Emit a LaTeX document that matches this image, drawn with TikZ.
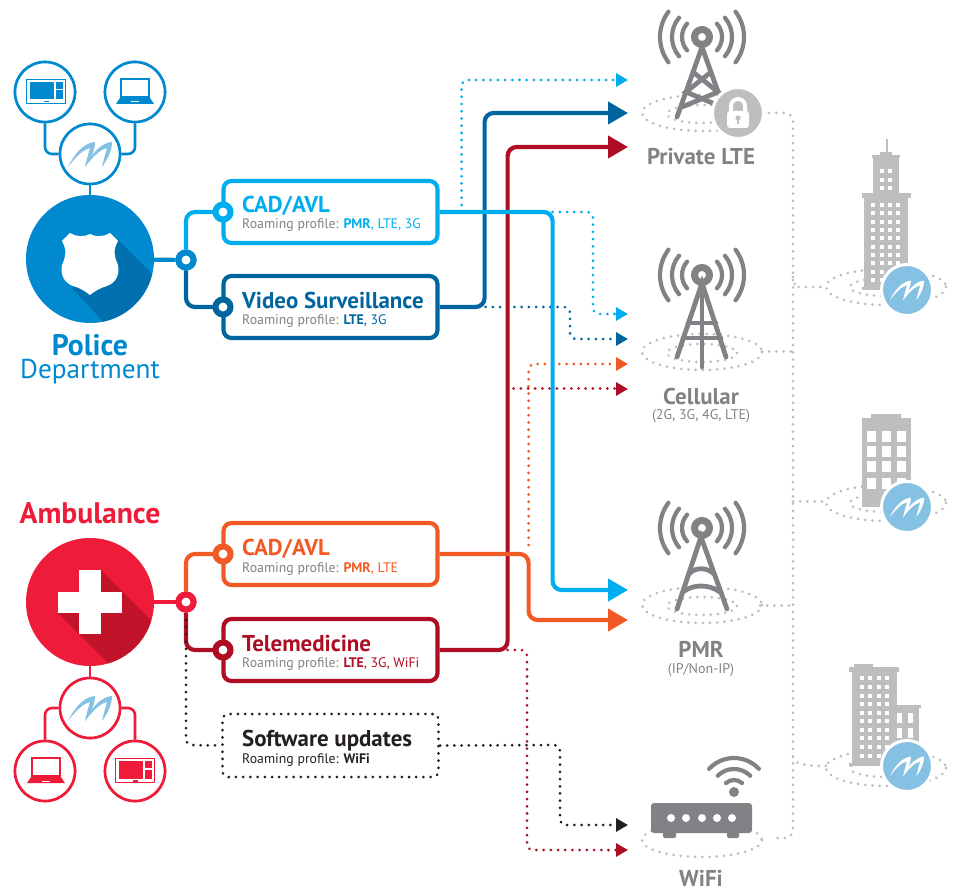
\documentclass[tikz,border=0pt]{standalone}
\usepackage{fontspec}
\setmainfont{PT Sans}
\usetikzlibrary{arrows.meta}
\definecolor{polblue}{HTML}{0089CF}
\definecolor{polshade}{HTML}{0071AE}
\definecolor{cadblue}{HTML}{00AEEF}
\definecolor{vidblue}{HTML}{00659F}
\definecolor{ambred}{HTML}{EE1C39}
\definecolor{ambshade}{HTML}{C1132A}
\definecolor{cadorange}{HTML}{F15A24}
\definecolor{teldark}{HTML}{AE0D24}
\definecolor{softblack}{HTML}{231F20}
\definecolor{towergray}{HTML}{808285}
\definecolor{lightgray}{HTML}{BCBEC0}
\definecolor{logoblue}{HTML}{85C1E3}
\tikzset{
  solidline/.style={line width=4.2pt,rounded corners=9pt,-{Triangle[length=20pt,width=22pt]}},
  dotline/.style={line width=3pt,line cap=round,dash pattern=on 0.01pt off 7.2pt,rounded corners=6pt,-{Triangle[length=12pt,width=13pt]}},
  plainline/.style={line width=4.2pt,rounded corners=9pt},
  thinline/.style={line width=2.6pt,rounded corners=7pt},
  grayline/.style={line width=3pt,line cap=round,dash pattern=on 0.01pt off 7.2pt,lightgray,rounded corners=8pt},
  towerline/.style={line width=4.8pt,towergray,line cap=round},
  waveline/.style={line width=4.2pt,towergray,line cap=round},
  routebox/.style={draw,line width=4.2pt,rounded corners=8pt,minimum width=214pt,minimum height=62pt,inner sep=0pt,fill=white},
  softbox/.style={draw=softblack,line width=3pt,line cap=round,dash pattern=on 0.01pt off 7.2pt,rounded corners=6pt,minimum width=216pt,minimum height=63pt,inner sep=0pt},
  ring/.style={circle,draw,fill=white,line width=6pt,minimum size=15pt,inner sep=0pt},
  iconcircle/.style={circle,draw,fill=white,line width=2.6pt,minimum size=60pt,inner sep=0pt},
  badge/.style={circle,draw=white,line width=3pt,minimum size=51pt,inner sep=0pt},
  bigcircle/.style={circle,minimum size=128pt,inner sep=0pt},
  boxtitle/.style={anchor=base west,inner sep=0pt,font=\fontsize{22.9}{22.9}\selectfont\bfseries},
  boxsub/.style={anchor=base west,inner sep=0pt,towergray,font=\fontsize{13.8}{13.8}\selectfont},
  sitetitle/.style={anchor=base,inner sep=0pt,towergray,font=\fontsize{22.9}{22.9}\selectfont\bfseries},
  sitesub/.style={anchor=base,inner sep=0pt,towergray,font=\fontsize{14}{14}\selectfont},
  depttitle/.style={anchor=base,inner sep=0pt,font=\fontsize{29.7}{29.7}\selectfont\bfseries},
}
% swoosh mark: x, y, scale, colour
\newcommand{\logomark}[4]{
\foreach \dx in {0,17}{
\fill[#4,shift={(#1,#2)},scale=#3] (-22+\dx,13) .. controls (-14+\dx,-3) and (-5+\dx,-11) .. (5+\dx,-12)
  .. controls (5+\dx,-4) and (1+\dx,5) .. (-5+\dx,13) .. controls (-3+\dx,4) and (-1+\dx,-2) .. (0+\dx,-6)
  .. controls (-8+\dx,-4) and (-15+\dx,4) .. (-22+\dx,13) -- cycle;
}}
\newcommand{\desktopicon}[3]{
\begin{scope}[shift={(#1,#2)}]
\draw[#3,line width=1.6pt] (-19.5,-12.5) rectangle (19.5,11.5);
\fill[#3] (-16,-10) rectangle (8,7.5);
\fill[#3] (9.5,-10) rectangle (17,-3);
\fill[#3] (9.5,-1.5) rectangle (17,7.5);
\fill[#3] (-2,9) rectangle (2.5,10.5);
\end{scope}}
\newcommand{\laptopicon}[3]{
\begin{scope}[shift={(#1,#2)}]
\draw[#3,line width=1.6pt] (-14,-13) rectangle (14,5);
\fill[#3] (-15,6) -- (15,6) -- (19,12) -- (-19,12) -- cycle;
\fill[white] (-4,9.5) rectangle (4,10.5);
\end{scope}}
\begin{document}
\begin{tikzpicture}[x=1pt,y=-1pt]
\useasboundingbox (0,0) rectangle (953,890);

% gray network on the right
\coordinate (privend) at (762,113);
\coordinate (wifiend) at (773,838);
\draw[grayline] (privend) -- (793,113) -- (793,838) -- (wifiend);
\draw[grayline] (762,352) -- (793,352);
\draw[grayline] (760,605) -- (793,605);
\draw[grayline] (793,277) .. controls (794,285) and (797,287) .. (803,287) -- (826,287);
\draw[grayline] (793,501) -- (826,501);
\draw[grayline] (793,757) .. controls (795,763) and (800,766) .. (826,766);

% dotted footprints
\foreach \cy in {113,352,605}{
\draw[grayline] (702,\cy) ellipse [x radius=60,y radius=18];
\draw[grayline] (702,\cy+1) ellipse [x radius=35,y radius=9];
}
\draw[grayline] (702,840) ellipse [x radius=60,y radius=17];
\foreach \cy in {287,503,768}{
\draw[grayline] (886,\cy) ellipse [x radius=60,y radius=18];
\draw[grayline] (886,\cy) ellipse [x radius=36,y radius=9];
}

% towers
\foreach \ty in {37,275,528}{
\foreach \r/\a in {20/42,30/40,42/37}{
\draw[waveline] (702,\ty) ++(-\a:\r) arc[start angle=-\a,end angle=\a,radius=\r];
\draw[waveline] (702,\ty) ++(180-\a:\r) arc[start angle=180-\a,end angle=180+\a,radius=\r];
}
\draw[towergray,line width=7pt] (702,\ty) circle (7.5);
}
% private
\draw[towerline] (677,117) -- (702,47) -- (727,117);
\draw[towerline] (693,72) -- (718,92) -- (682,107);
\draw[towerline] (711,72) -- (686,92) -- (722,107);
% cellular
\draw[towerline] (677,357) -- (702,283) -- (726,357);
\draw[towerline] (702,290) -- (702,367);
\draw[towerline] (688,323) -- (716,323);
\draw[towerline] (683,338) -- (721,338);
% pmr
\draw[towerline] (677,609) -- (701,537) -- (727,609);
\draw[towerline] (689,574) .. controls (695,567) and (707,567) .. (714,574);
\draw[towerline] (683,592) .. controls (693,584) and (709,584) .. (720,592);

% lock
\node[badge,fill=lightgray] (lockbadge) at (738,113) {};
\draw[white,line width=4pt] (731,112) -- (731,106) arc[start angle=180,end angle=360,radius=7] -- (745,112);
\fill[white,rounded corners=3pt] (727,111) rectangle (749,128);
\fill[lightgray] (738,118) circle (2.6);
\fill[lightgray] (736.8,118) rectangle (739.2,124);

% router
\fill[towergray,rounded corners=3pt] (651,803) rectangle (752,833);
\fill[towergray,rounded corners=2pt] (663,830) rectangle (676,838);
\fill[towergray,rounded corners=2pt] (727,830) rectangle (739,838);
\foreach \lx in {671,686,702,717,732}{
\fill[white] (\lx,818) circle (4);
}
\fill[towergray] (734,792) circle (5);
\foreach \r/\a in {12/42,23/45,34/47}{
\draw[waveline] (734,792) ++(-90-\a:\r) arc[start angle=-90-\a,end angle=-90+\a,radius=\r];
}

% buildings
\begin{scope}[lightgray]
\fill (885.5,139) rectangle (887.5,153);
\fill (880,152) rectangle (892,155);
\fill (872,155) rectangle (900,158);
\fill (873,158) rectangle (899,193);
\fill (862,193) rectangle (911,198);
\fill (864,198) rectangle (908,290);
\fill (862,287) rectangle (908,290);
\fill (871,414) rectangle (901,418);
\fill (862,418) rectangle (911,507);
\fill (854,664) rectangle (873,667);
\fill (849,667) rectangle (899,672);
\fill (852,672) rectangle (897,765);
\fill (849,763) rectangle (897,766);
\fill (897,705) rectangle (921,708);
\fill (897,708) rectangle (919,743);
\end{scope}
\foreach \wy in {205,213,222,230,238,247,255,263,272,280}{
\foreach \wx in {873,882,890,898}{
\fill[white] (\wx-2,\wy-2) rectangle (\wx+2,\wy+2);
}}
\foreach \wy in {171,180,188}{
\foreach \wx in {882,890}{
\fill[white] (\wx-2,\wy-2) rectangle (\wx+2,\wy+2);
}}
\foreach \wy in {436,451,466,483}{
\foreach \wx in {871,886,901}{
\fill[white] (\wx-4.5,\wy-5.5) rectangle (\wx+4.5,\wy+5.5);
}}
\foreach \wy in {678,687,696,704,713,721,730,738,747,756}{
\foreach \wx in {862,870,879,887}{
\fill[white] (\wx-2,\wy-2) rectangle (\wx+2,\wy+2);
}}
\foreach \wy in {718,733}{
\foreach \wx in {899,910}{
\fill[white] (\wx-2.5,\wy-5) rectangle (\wx+2.5,\wy+5);
}}
\foreach \by/\bname in {290/badgea,507/badgeb,766/badgec}{
\node[badge,fill=logoblue] (\bname) at (907,\by) {};
\logomark{907}{\by}{0.78}{white}
}

% site labels
\node[sitetitle] (privname) at (701,165) {Private LTE};
\node[sitetitle] (cellname) at (701,404) {Cellular};
\node[sitesub] (cellsub) at (701,420) {(2G, 3G, 4G, LTE)};
\node[sitetitle] (pmrname) at (701,657) {PMR};
\node[sitesub] (pmrsub) at (701,673) {(IP/Non-IP)};
\node[sitetitle] (wifiname) at (701,886) {WiFi};

% arrow targets
\coordinate (privdot) at (628,80);
\coordinate (privvid) at (628,113);
\coordinate (privtel) at (628,147);
\coordinate (cellcad) at (628,314);
\coordinate (cellvid) at (628,339);
\coordinate (cellamb) at (628,364);
\coordinate (celltel) at (628,389);
\coordinate (pmrcad) at (628,590);
\coordinate (pmramb) at (628,620);
\coordinate (wifisoft) at (628,825);
\coordinate (wifitel) at (628,850);

% route boxes
\node[routebox,draw=cadblue] (cadp) at (330.5,212) {};
\node[routebox,draw=vidblue] (vidp) at (330.5,307) {};
\node[routebox,draw=cadorange] (cada) at (330.5,554) {};
\node[routebox,draw=teldark] (tela) at (330.5,650) {};
\node[softbox] (softa) at (330.5,745.5) {};

% dotted routes
\draw[dotline,cadblue] (cadp.east) ++(22,-7) |- (privdot);
\draw[dotline,cadblue] (cadp.east) ++(113,0) -- (593,212) |- (cellcad);
\draw[dotline,vidblue] (vidp.east) ++(46,0) -- (570,307) |- (cellvid);
\draw[dotline,cadorange] (cada.east) ++(89,-9) |- (cellamb);
\draw[dotline,teldark] (tela.east) ++(74,-261) -- (celltel);
\draw[dotline,teldark] (tela.east) ++(68,0) -- (527,650) |- (wifitel);
\draw[dotline,softblack] (softa.east) -- (560,745) |- (wifisoft);

% solid routes
\draw[solidline,teldark] (tela.east) -- ++(68,0) |- (privtel);
\draw[solidline,vidblue] (vidp.east) -- ++(45,0) |- (privvid);
\draw[solidline,cadorange] (cada.east) -- ++(89,0) |- (pmramb);
\draw[solidline,cadblue] (cadp.east) -- ++(113,0) |- (pmrcad);

% box texts
\node[boxtitle,cadblue] (cadptitle) at (242,213) {CAD/AVL};
\node[boxsub] (cadpsub) at (242,229) {Roaming profile: \textcolor{cadblue}{\textbf{PMR}, LTE, 3G}};
\node[boxtitle,vidblue] (vidptitle) at (242,309) {Video Surveillance};
\node[boxsub] (vidpsub) at (242,325) {Roaming profile: \textcolor{vidblue}{\textbf{LTE}, 3G}};
\node[boxtitle,cadorange] (cadatitle) at (242,555) {CAD/AVL};
\node[boxsub] (cadasub) at (242,572) {Roaming profile: \textcolor{cadorange}{\textbf{PMR}, LTE}};
\node[boxtitle,teldark] (telatitle) at (242,651) {Telemedicine};
\node[boxsub] (telasub) at (242,667) {Roaming profile: \textcolor{teldark}{\textbf{LTE}, 3G, WiFi}};
\node[boxtitle,softblack] (softatitle) at (242,746) {Software updates};
\node[boxsub,softblack] (softasub) at (242,763) {Roaming profile: \textbf{WiFi}};

% police
\node[bigcircle,fill=polblue] (police) at (90,259) {};
\begin{scope}
\clip (90,259) circle (64);
\fill[polshade] (118,240) -- (170,292) -- (170,340) -- (120,340) -- (72,288) -- cycle;
\end{scope}
\fill[white] (70,233) .. controls (76,237) and (85,237) .. (90,234) .. controls (95,237) and (104,237) .. (110,233)
  -- (118,241) .. controls (113,250) and (114,256) .. (118,265) .. controls (120,276) and (115,283) .. (107,286)
  .. controls (100,288) and (95,291) .. (90,295) .. controls (85,291) and (80,288) .. (73,286)
  .. controls (65,283) and (60,276) .. (62,265) .. controls (66,256) and (67,250) .. (62,241) -- cycle;
\node[ring,draw=polblue] (hubp) at (186,260) {};
\node[iconcircle,draw=polblue] (deskp) at (45,92) {};
\node[iconcircle,draw=polblue] (lapp) at (135,92) {};
\node[iconcircle,draw=polblue] (logop) at (90,154) {};
\draw[thinline,polblue] (deskp) |- (logop);
\draw[thinline,polblue] (lapp) |- (logop);
\draw[thinline,polblue] (logop) -- (police);
\node[iconcircle,draw=polblue] at (45,92) {};
\node[iconcircle,draw=polblue] at (135,92) {};
\node[iconcircle,draw=polblue] at (90,154) {};
\desktopicon{46}{92}{polblue}
\laptopicon{135}{92}{polblue}
\logomark{90}{154}{1}{logoblue}
\node[depttitle,polblue] (poltitle) at (90,356) {Police};
\node[anchor=base,inner sep=0pt,polblue,font=\fontsize{27.3}{27.3}\selectfont] (poldept) at (90,378) {Department};

% ambulance
\node[bigcircle,fill=ambred] (amb) at (90,602) {};
\begin{scope}
\clip (90,602) circle (64);
\fill[ambshade] (101,570) -- (170,639) -- (170,700) -- (145,700) -- (58,613) -- cycle;
\end{scope}
\fill[white] (79,570) rectangle (101,634);
\fill[white] (58,592) rectangle (122,613);
\node[ring,draw=ambred] (huba) at (186,602) {};
\node[iconcircle,draw=ambred] (lapa) at (45,771) {};
\node[iconcircle,draw=ambred] (deska) at (135,771) {};
\node[iconcircle,draw=ambred] (logoa) at (90,708) {};
\draw[thinline,ambred] (lapa) |- (logoa);
\draw[thinline,ambred] (deska) |- (logoa);
\draw[thinline,ambred] (logoa) -- (amb);
\node[iconcircle,draw=ambred] at (45,771) {};
\node[iconcircle,draw=ambred] at (135,771) {};
\node[iconcircle,draw=ambred] at (90,708) {};
\laptopicon{46}{771}{ambred}
\desktopicon{135}{771}{ambred}
\logomark{90}{708}{1}{logoblue}
\node[depttitle,ambred] (ambtitle) at (90,523) {Ambulance};

% hub links
\draw[plainline,polblue] (police) -- (hubp);
\draw[plainline,ambred] (amb) -- (huba);
\draw[plainline,cadblue] (hubp) |- (cadp.west);
\draw[plainline,vidblue] (hubp) |- (vidp.west);
\draw[plainline,cadorange] (huba) |- (cada.west);
\draw[plainline,teldark] (huba) |- (tela.west);
\draw[dotline,softblack,-] (huba) ++(0,18) -- (186,745) -- (softa.west);

% rings
\node[ring,draw=polblue] at (186,260) {};
\node[ring,draw=ambred] at (186,602) {};
\node[ring,draw=cadblue] (ringcadp) at (223,212) {};
\node[ring,draw=vidblue] (ringvidp) at (223,307) {};
\node[ring,draw=cadorange] (ringcada) at (223,554) {};
\node[ring,draw=teldark] (ringtela) at (223,650) {};
\end{tikzpicture}
\end{document}
